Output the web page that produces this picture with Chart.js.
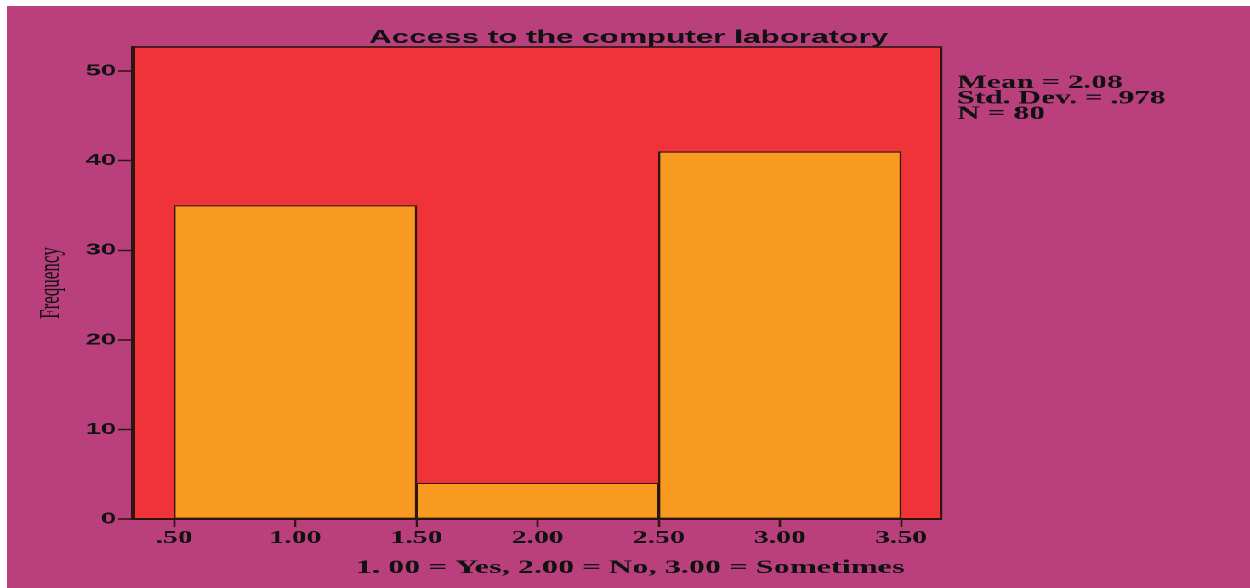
<!DOCTYPE html>
<html>
<head>
<meta charset="utf-8">
<script src="https://cdn.jsdelivr.net/npm/chart.js@4"></script>
<style>
  html, body { margin: 0; background: #fff; overflow: hidden; }
  /* the source image is a horizontally stretched SPSS histogram, so draw narrow and stretch */
  #wrap { position: absolute; left: 7px; top: 6px; width: 731px; height: 582px; background: #B9407D; transform: scaleX(1.7004); transform-origin: 0 0; }
</style>
</head>
<body>
<div id="wrap"><canvas id="chart-hist"></canvas></div>
<script>
const CHART_TITLE = "Access to the computer laboratory";
const X_CAPTION = "1. 00 = Yes, 2.00 = No, 3.00 = Sometimes";
const Y_TITLE = "Frequency";
const binCenters = [1, 2, 3];
const frequencies = [35, 4, 41];
const xTickValues = [0.5, 1, 1.5, 2, 2.5, 3, 3.5];
const xTickLabels = [".50", "1.00", "1.50", "2.00", "2.50", "3.00", "3.50"];
const yTickValues = [0, 10, 20, 30, 40, 50];
const statsLines = ["Mean = 2.08", "Std. Dev. = .978", "N = 80"];

const INK = "#111";
const EDGE = "#2e1512";

// red plot panel behind everything, frame + side texts on top
const panelPlugin = {
  id: "panel",
  beforeDraw(chart) {
    const { ctx, chartArea: a } = chart;
    ctx.save();
    ctx.fillStyle = "#F03239";
    ctx.fillRect(a.left, a.top, a.right - a.left, a.bottom - a.top);
    ctx.restore();
  },
  afterDraw(chart) {
    const { ctx, chartArea: a } = chart;
    ctx.save();
    ctx.strokeStyle = EDGE;
    ctx.lineWidth = 1.6;
    ctx.strokeRect(a.left, a.top, a.right - a.left, a.bottom - a.top);

    ctx.fillStyle = INK;
    ctx.font = "bold 18.5px 'Liberation Serif'";
    ctx.textBaseline = "alphabetic";
    ctx.textAlign = "left";
    statsLines.forEach((t, i) => ctx.fillText(t, a.right + 9.5, 82 + i * 15.5));

    ctx.font = "bold 19px 'Liberation Serif'";
    ctx.textAlign = "center";
    ctx.fillText(X_CAPTION, chart.width / 2 + 1, 567);
    ctx.restore();
  },
};

new Chart(document.getElementById("chart-hist"), {
  type: "bar",
  data: {
    datasets: [{
      data: binCenters.map((x, i) => ({ x, y: frequencies[i] })),
      backgroundColor: "#F89A1F",
      borderColor: EDGE,
      borderWidth: 1.2,
      borderSkipped: false,
      barThickness: "flex",
      barPercentage: 1,
      categoryPercentage: 1,
    }],
  },
  options: {
    responsive: true, maintainAspectRatio: false, animation: false,
    devicePixelRatio: 2,
    layout: { padding: 0 },
    plugins: {
      legend: { display: false },
      tooltip: { enabled: false },
      title: {
        display: true, text: CHART_TITLE, color: INK,
        font: { family: "Liberation Sans", size: 18.5, weight: "bold", lineHeight: 1 },
        padding: { top: 22.5, bottom: 0 },
      },
    },
    scales: {
      x: {
        type: "linear", min: 0.33, max: 3.665, offset: false,
        afterBuildTicks: (s) => { s.ticks = xTickValues.map((value) => ({ value })); },
        ticks: {
          color: INK, padding: 1, maxRotation: 0, autoSkip: false,
          font: { family: "Liberation Serif", size: 17.5, weight: "bold" },
          callback: (v, i) => xTickLabels[i],
        },
        grid: { drawOnChartArea: false, offset: false, tickLength: 8, tickColor: EDGE, tickWidth: 1.3 },
        border: { display: true, color: EDGE, width: 2 },
        afterFit: (s) => { s.height = 69; },
      },
      y: {
        min: 0, max: 52.7,
        afterBuildTicks: (s) => { s.ticks = yTickValues.map((value) => ({ value })); },
        ticks: { color: INK, padding: 1, font: { family: "Liberation Sans", size: 16, weight: "bold" } },
        grid: { drawOnChartArea: false, tickLength: 9, tickColor: EDGE, tickWidth: 1.5 },
        border: { display: true, color: EDGE, width: 2 },
        title: {
          display: true, text: Y_TITLE, color: INK,
          font: { family: "Liberation Serif", size: 17 },
          padding: { top: 16, bottom: 0 },
        },
        afterFit: (s) => { s.width = 74.1; },
      },
      // empty right-hand axis that only holds the space for the stats text
      side: {
        type: "linear", position: "right", display: true,
        ticks: { display: false }, grid: { display: false }, border: { display: false },
        afterFit: (s) => { s.width = 181.7; },
      },
    },
  },
  plugins: [panelPlugin],
});
</script>
</body>
</html>
